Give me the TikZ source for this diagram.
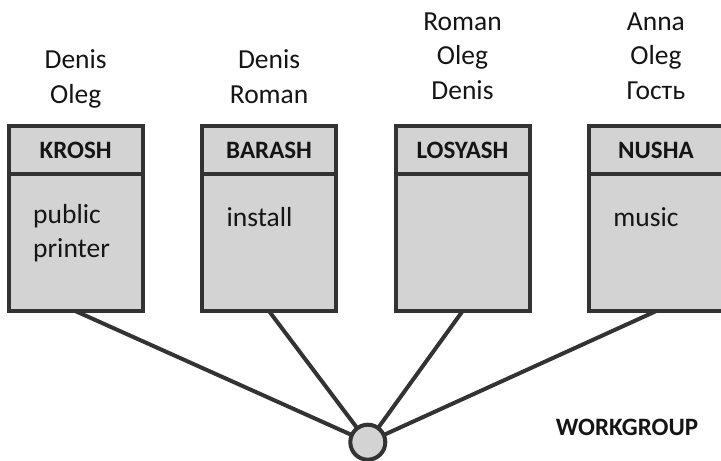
\documentclass[tikz,border=0pt]{standalone}
\usepackage{fontspec}
\setmainfont{Carlito}
\usetikzlibrary{positioning}
\definecolor{boxgray}{HTML}{D3D3D3}
\definecolor{edgegray}{HTML}{333333}
\definecolor{ink}{HTML}{151515}

\begin{document}
\begin{tikzpicture}[x=1pt,y=1pt,node distance=193.4pt,on grid,
  pc/.style={draw=edgegray,fill=boxgray,line width=4pt,outer sep=0pt,inner sep=0pt,
    minimum width=134pt,minimum height=185pt},
  head/.style={draw=edgegray,line width=4pt,outer sep=0pt,inner sep=0pt,anchor=north,
    minimum width=134pt,minimum height=48pt,text=ink,font=\fontsize{25}{30}\selectfont\bfseries},
  share/.style={anchor=base west,inner sep=0pt,align=left,text=ink,
    font=\fontsize{27.5}{33.5}\selectfont},
  users/.style={anchor=base,inner sep=0pt,align=center,text=ink,
    font=\fontsize{27.5}{34.5}\selectfont},
  hub/.style={circle,draw=edgegray,fill=boxgray,line width=4pt,outer sep=0pt,inner sep=0pt,
    minimum size=35pt},
  link/.style={draw=edgegray,line width=4pt}]
  \useasboundingbox (0,0) rectangle (721,461);

  % computers
  \node[pc] (krosh) at (75.7,242.3) {};
  \node[pc] (barash) [right=of krosh] {};
  \node[pc] (losyash) [right=of barash] {};
  \node[pc] (nusha) [right=of losyash] {};
  \node[head] (kroshH) at (krosh.north) {KROSH};
  \node[head] (barashH) at (barash.north) {BARASH};
  \node[head] (losyashH) at (losyash.north) {LOSYASH};
  \node[head] (nushaH) at (nusha.north) {NUSHA};

  % shared folders
  \node[share] (kroshS) at ([xshift=24.3pt,yshift=-131pt]krosh.north west) {public\\printer};
  \node[share] (barashS) at ([xshift=24.3pt,yshift=-100.7pt]barash.north west) {install};
  \node[share] (nushaS) at ([xshift=24.3pt,yshift=-100.7pt]nusha.north west) {music};

  % users
  \node[users] (kroshU) at ([yshift=23pt]krosh.north) {Denis\\Oleg};
  \node[users] (barashU) at ([yshift=23pt]barash.north) {Denis\\Roman};
  \node[users] (losyashU) at ([yshift=27pt]losyash.north) {Roman\\Oleg\\Denis};
  \node[users] (nushaU) at ([yshift=27pt]nusha.north) {Anna\\Oleg\\Гость};

  % workgroup
  \node[hub] (hub) at (367.8,18.8) {};
  \node[anchor=base,text=ink,font=\fontsize{25}{30}\selectfont\bfseries] (wg) at (627,25) {WORKGROUP};
  \foreach \c in {krosh,barash,losyash,nusha}
    \draw[link] (\c.south) -- (hub);
\end{tikzpicture}
\end{document}
